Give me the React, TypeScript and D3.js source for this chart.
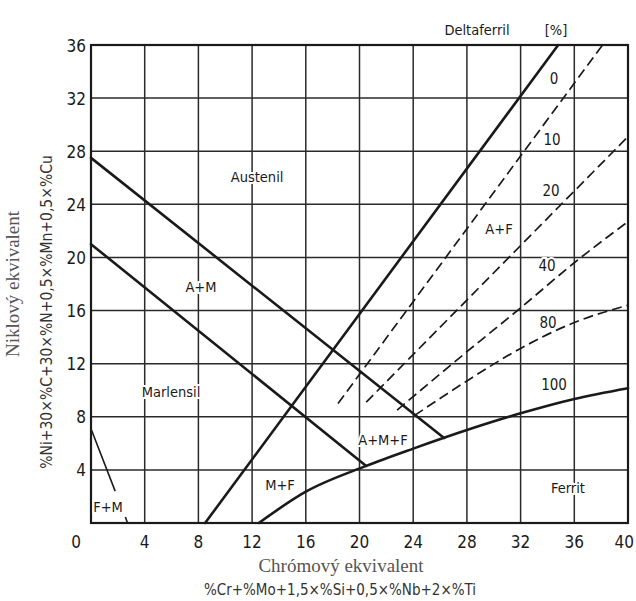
import React from 'react';
import * as d3 from 'd3';

type P = [number, number];

const xTicks = [0, 4, 8, 12, 16, 20, 24, 28, 32, 36, 40];
const yTicks = [4, 8, 12, 16, 20, 24, 28, 32, 36];
const gridX = [4, 8, 12, 16, 20, 24, 28, 32, 36];
const gridY = [4, 8, 12, 16, 20, 24, 28, 32];

const austeniteBoundary: P[] = [[0, 27.5], [26.3, 6.4]];
const martensiteBoundary: P[] = [[0, 21], [20.5, 4.3]];
const ferrite0: P[] = [[8.5, 0], [34.8, 36]];
const ferrite100: P[] = [[12.5, 0], [16, 2.36], [20.5, 4.3], [24, 5.6], [28, 7.0], [32, 8.26], [36, 9.34], [40, 10.15]];
const ferrite10: P[] = [[18.4, 9.0], [38.1, 36]];
const ferrite20: P[] = [[20.5, 9.1], [40, 29.1]];
const ferrite40: P[] = [[22.8, 8.5], [28, 12.9], [32, 16.2], [36, 19.6], [40, 22.7]];
const ferrite80: P[] = [[24.1, 8.1], [28, 10.7], [32, 13.15], [36, 15.1], [40, 16.4]];
const fmLineUpper: P[] = [[0, 7.1], [1.8, 2.4]];
const fmLineLower: P[] = [[2.56, 0.45], [2.72, 0]];

const regionLabels = ['Austenil', 'A+M', 'Marlensil', 'F+M', 'M+F', 'A+M+F', 'A+F', 'Ferrit'];
const regionX = [12.37, 8.19, 5.96, 1.27, 14.08, 21.75, 30.39, 35.53];
const regionY = [26.06, 17.77, 9.87, 1.2, 2.86, 6.25, 22.14, 2.64];

const pctLabels = ['0', '10', '20', '40', '80', '100'];
const pctX = [34.49, 34.34, 34.27, 33.97, 34.04, 34.49];
const pctY = [33.44, 28.85, 25.0, 19.36, 15.06, 10.39];

const xTitle = 'Chrómový ekvivalent';
const xFormula = '%Cr+%Mo+1,5×%Si+0,5×%Nb+2×%Ti';
const yTitle = 'Niklový ekvivalent';
const yFormula = '%Ni+30×%C+30×%N+0,5×%Mn+0,5×%Cu';
const headerTitle = 'Deltaferril';
const headerUnit = '[%]';

const W = 636;
const H = 601;
const left = 91;
const right = 628;
const top = 45;
const bottom = 523;

const cond = "'DejaVu Sans Condensed', 'Liberation Sans Narrow', 'DejaVu Sans', sans-serif";
const serif = "'Liberation Serif', 'DejaVu Serif', serif";

export default function App() {
  const x = d3.scaleLinear().domain([0, 40]).range([left, right]);
  const y = d3.scaleLinear().domain([0, 36]).range([bottom, top]);
  const straight = d3.line<P>().x(d => x(d[0])).y(d => y(d[1]));
  const curved = d3.line<P>().x(d => x(d[0])).y(d => y(d[1])).curve(d3.curveMonotoneX);

  const ink = '#1a1a1a';

  return (
    <svg width={W} height={H} style={{ position: 'absolute', left: 0, top: 0, background: '#fff' }}>
      <rect x={0} y={0} width={W} height={H} fill="#fff" />
      {/* grid */}
      <g stroke="#2a2a2a" strokeWidth={1.5}>
        {gridX.map(v => (
          <line key={'gx' + v} x1={x(v)} x2={x(v)} y1={y(0)} y2={y(36)} />
        ))}
        {gridY.map(v => (
          <line key={'gy' + v} x1={x(0)} x2={x(40)} y1={y(v)} y2={y(v)} />
        ))}
      </g>
      <rect x={x(0)} y={y(36)} width={x(40) - x(0)} height={y(0) - y(36)} fill="none" stroke={ink} strokeWidth={2.2} />

      {/* boundaries */}
      <g fill="none" stroke={ink} strokeWidth={2.6} strokeLinecap="round">
        <path d={straight(austeniteBoundary) || ''} />
        <path d={straight(martensiteBoundary) || ''} />
        <path d={straight(ferrite0) || ''} />
        <path d={curved(ferrite100) || ''} />
      </g>
      <g fill="none" stroke={ink} strokeWidth={1.6}>
        <path d={straight(fmLineUpper) || ''} />
        <path d={straight(fmLineLower) || ''} />
      </g>
      <g fill="none" stroke={ink} strokeWidth={1.7} strokeDasharray="10 5">
        <path d={straight(ferrite10) || ''} />
        <path d={straight(ferrite20) || ''} />
        <path d={curved(ferrite40) || ''} />
        <path d={curved(ferrite80) || ''} />
      </g>

      {/* region labels */}
      <g fontFamily={cond} fontSize={14.5} fontWeight={500} fill={ink} textAnchor="middle" stroke="#fff" strokeWidth={4} style={{ paintOrder: 'stroke' }}>
        {regionLabels.map((t, i) => (
          <text key={t} x={x(regionX[i])} y={y(regionY[i])} dy="0.36em">{t}</text>
        ))}
      </g>
      <g fontFamily={cond} fontSize={15} fontWeight={500} fill={ink} textAnchor="middle" stroke="#fff" strokeWidth={4} style={{ paintOrder: 'stroke' }}>
        {pctLabels.map((t, i) => (
          <text key={t} x={x(pctX[i])} y={y(pctY[i])} dy="0.36em">{t}</text>
        ))}
      </g>

      {/* header */}
      <g fontFamily={cond} fontSize={14.5} fontWeight={500} fill={ink}>
        <text x={x(28.75)} y={y(37.13)} dy="0.36em" textAnchor="middle">{headerTitle}</text>
        <text x={x(34.64)} y={y(37.13)} dy="0.36em" textAnchor="middle">{headerUnit}</text>
      </g>

      {/* tick labels */}
      <g fontFamily={cond} fontSize={17} fontWeight={500} fill={ink} textAnchor="middle">
        {xTicks.map(v => (
          <text
            key={'xt' + v}
            x={v === 0 ? x(v) - 15 : v === 40 ? W - 2 : x(v)}
            y={bottom + 25}
            textAnchor={v === 40 ? 'end' : 'middle'}
          >{v}</text>
        ))}
      </g>
      <g fontFamily={cond} fontSize={17} fontWeight={500} fill={ink} textAnchor="end">
        {yTicks.map(v => (
          <text key={'yt' + v} x={left - 5} y={y(v) + 6.5}>{v}</text>
        ))}
      </g>

      {/* axis titles */}
      <text x={341} y={572} fontFamily={serif} fontSize={19} fill="#555" textAnchor="middle">{xTitle}</text>
      <text x={340} y={595} fontFamily={cond} fontSize={15} fill="#333" textAnchor="middle">{xFormula}</text>
      <text transform="translate(19,284) rotate(-90)" fontFamily={serif} fontSize={19} fill="#555" textAnchor="middle">{yTitle}</text>
      <text transform="translate(52,312) rotate(-90)" fontFamily={cond} fontSize={15.5} fill="#333" textAnchor="middle">{yFormula}</text>
    </svg>
  );
}
